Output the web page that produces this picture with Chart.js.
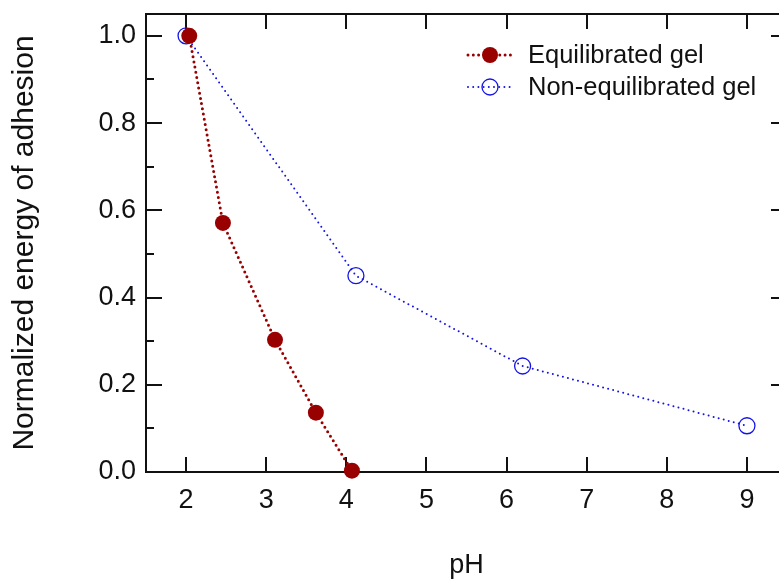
<!DOCTYPE html>
<html>
<head>
<meta charset="utf-8">
<script src="https://cdn.jsdelivr.net/npm/chart.js@4/dist/chart.umd.min.js"></script>
<style>
  html, body { margin: 0; padding: 0; background: #fff; }
  #wrap { width: 779px; height: 579px; overflow: hidden; position: relative; }
  #chartCanvas { position: absolute; left: 0; top: 0; }
</style>
</head>
<body>
<div id="wrap"><canvas id="chartCanvas" width="800" height="579"></canvas></div>
<script>
// data
const EQ_PH = [2.04, 2.46, 3.11, 3.62, 4.07];
const EQ_ENERGY = [1.0, 0.571, 0.303, 0.136, 0.003];
const NEQ_PH = [2.0, 4.12, 6.2, 9.0];
const NEQ_ENERGY = [1.0, 0.45, 0.243, 0.106];

const X_TICKS = [2, 3, 4, 5, 6, 7, 8, 9];
const Y_TICKS = [0, 0.2, 0.4, 0.6, 0.8, 1.0];
const Y_MINOR = [0.1, 0.3, 0.5, 0.7, 0.9];

const FONT = "'Liberation Sans', Arial, sans-serif";
const RED = '#990000';
const BLUE = '#1414e6';

function toPoints(xs, ys) {
  return xs.map((x, i) => ({ x: x, y: ys[i] }));
}

// frame + inward ticks on all four sides
const framePlugin = {
  id: 'frame',
  beforeDatasetsDraw(chart) {
    const ctx = chart.ctx;
    const a = chart.chartArea;
    const xs = chart.scales.x, ys = chart.scales.y;
    ctx.save();
    ctx.strokeStyle = '#111';
    ctx.lineWidth = 2;
    ctx.beginPath();
    X_TICKS.forEach(v => {
      const px = Math.round(xs.getPixelForValue(v));
      ctx.moveTo(px, a.bottom); ctx.lineTo(px, a.bottom - 15);
      ctx.moveTo(px, a.top); ctx.lineTo(px, a.top + 15);
    });
    Y_TICKS.forEach(v => {
      const py = Math.round(ys.getPixelForValue(v));
      ctx.moveTo(a.left, py); ctx.lineTo(a.left + 16, py);
      ctx.moveTo(a.right, py); ctx.lineTo(a.right - 16, py);
    });
    Y_MINOR.forEach(v => {
      const py = Math.round(ys.getPixelForValue(v));
      ctx.moveTo(a.left, py); ctx.lineTo(a.left + 8, py);
      ctx.moveTo(a.right, py); ctx.lineTo(a.right - 8, py);
    });
    ctx.stroke();
    ctx.strokeRect(a.left, a.top, a.right - a.left, a.bottom - a.top);
    ctx.restore();
  },
  afterDraw(chart) {
    // legend, top right inside the plot
    const ctx = chart.ctx;
    const rows = [55, 87];
    chart.data.datasets.forEach((ds, i) => {
      const y = rows[i];
      ctx.save();
      ctx.strokeStyle = ds.borderColor;
      ctx.lineWidth = ds.borderWidth;
      ctx.lineCap = 'round';
      ctx.setLineDash(ds.borderDash);
      ctx.beginPath();
      ctx.moveTo(468, y); ctx.lineTo(512, y);
      ctx.stroke();
      ctx.setLineDash([]);
      ctx.beginPath();
      ctx.arc(490, y, ds.pointRadius, 0, Math.PI * 2);
      if (ds.pointBackgroundColor !== 'transparent') {
        ctx.fillStyle = ds.pointBackgroundColor;
        ctx.fill();
      } else {
        ctx.lineWidth = ds.pointBorderWidth;
        ctx.strokeStyle = ds.pointBorderColor;
        ctx.stroke();
      }
      ctx.fillStyle = '#111';
      ctx.font = '25.5px ' + FONT;
      ctx.textBaseline = 'middle';
      ctx.fillText(ds.label, 528, y + 1);
      ctx.restore();
    });
  }
};

const ctx = document.getElementById('chartCanvas').getContext('2d');
const myChart = new Chart(ctx, {
  type: 'scatter',
  data: {
    datasets: [{
      label: 'Equilibrated gel',
      data: toPoints(EQ_PH, EQ_ENERGY),
      showLine: true,
      borderColor: RED,
      borderWidth: 3,
      borderDash: [0, 5.3],
      borderCapStyle: 'round',
      pointRadius: 8,
      pointBackgroundColor: RED,
      pointBorderColor: RED,
      pointBorderWidth: 0,
      clip: false
    }, {
      label: 'Non-equilibrated gel',
      data: toPoints(NEQ_PH, NEQ_ENERGY),
      showLine: true,
      borderColor: BLUE,
      borderWidth: 2,
      borderDash: [0, 5.2],
      borderCapStyle: 'round',
      pointRadius: 8,
      pointBackgroundColor: 'transparent',
      pointBorderColor: BLUE,
      pointBorderWidth: 1.3,
      clip: false
    }]
  },
  options: {
    responsive: false,
    animation: false,
    devicePixelRatio: 1,
    layout: { padding: { left: 0, top: 14, right: 13, bottom: 0 } },
    plugins: {
      legend: { display: false },
      tooltip: { enabled: false }
    },
    scales: {
      x: {
        type: 'linear',
        min: 1.5,
        max: 9.5,
        grid: { display: false, drawTicks: false },
        border: { display: false },
        afterBuildTicks: s => { s.ticks = X_TICKS.map(v => ({ value: v })); },
        afterFit: s => { s.height = 107; s.paddingLeft = 0; s.paddingRight = 0; },
        ticks: {
          padding: 12,
          color: '#111',
          font: { family: FONT, size: 27 },
          maxRotation: 0
        },
        title: {
          display: true,
          text: 'pH',
          color: '#111',
          font: { family: FONT, size: 27, lineHeight: 1.0 },
          padding: { top: 0, bottom: 0 }
        }
      },
      y: {
        min: 0,
        max: 1.05,
        grid: { display: false, drawTicks: false },
        border: { display: false },
        afterBuildTicks: s => { s.ticks = Y_TICKS.map(v => ({ value: v })); },
        afterFit: s => { s.width = 146; s.paddingTop = 0; s.paddingBottom = 0; },
        ticks: {
          padding: 10,
          color: '#111',
          font: { family: FONT, size: 27 },
          callback: v => Number(v).toFixed(1)
        },
        title: {
          display: true,
          text: 'Normalized energy of adhesion',
          color: '#111',
          font: { family: FONT, size: 30 },
          padding: { top: 7, bottom: 0 }
        }
      }
    }
  },
  plugins: [framePlugin]
});
</script>
</body>
</html>
